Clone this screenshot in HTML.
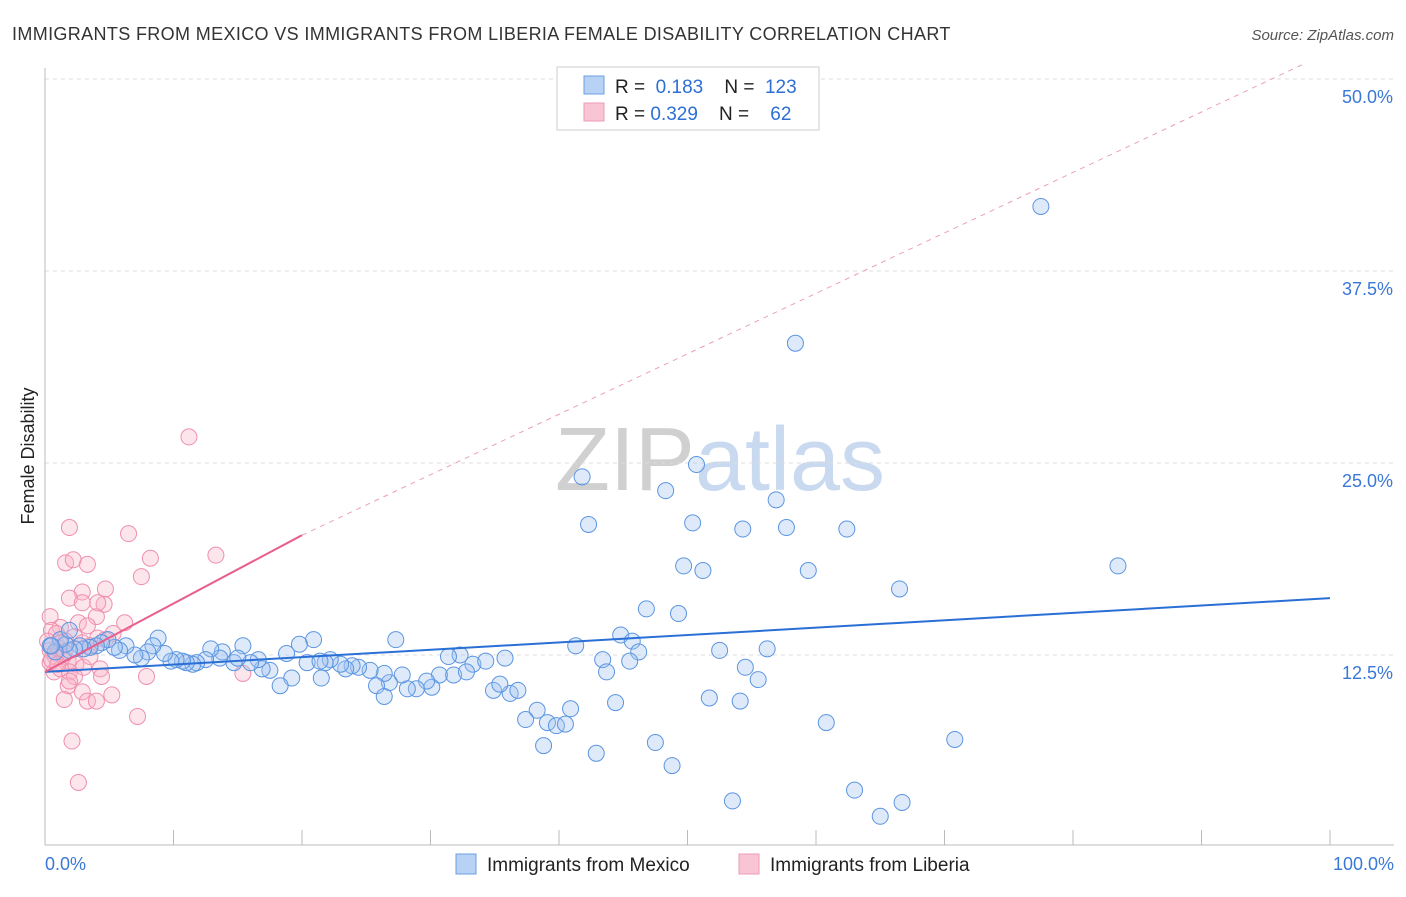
<!DOCTYPE html>
<html><head><meta charset="utf-8"><style>
body{margin:0;background:#fff;font-family:"Liberation Sans",sans-serif;}
svg text{font-family:"Liberation Sans",sans-serif;}
</style></head><body>
<svg id="c" width="1406" height="892">
<text x="12" y="40" font-size="18" fill="#333" letter-spacing="0.36">IMMIGRANTS FROM MEXICO VS IMMIGRANTS FROM LIBERIA FEMALE DISABILITY CORRELATION CHART</text>
<text x="1394" y="40" font-size="15" fill="#555" text-anchor="end" font-style="italic">Source: ZipAtlas.com</text>
<text x="34" y="456" font-size="18" fill="#222" text-anchor="middle" transform="rotate(-90 34 456)">Female Disability</text>
<text x="720" y="490" font-size="90" fill="#ccd6e4" text-anchor="middle" font-family="Liberation Serif"><tspan fill="#d0d0d0">ZIP</tspan><tspan fill="#c9daf0" font-family="Liberation Sans">atlas</tspan></text>
<g id="grid"></g><g id="pts"></g><g id="lines"></g>
<g>
<rect x="557" y="67" width="262" height="63" fill="#fff" stroke="#ccc"/>
<rect x="584" y="76" width="20" height="18" fill="#b8d2f5" stroke="#6a9fe0"/>
<rect x="584" y="103" width="20" height="18" fill="#f9c5d4" stroke="#ee9ab4"/>
<text x="615" y="93" font-size="19" fill="#222">R = <tspan fill="#2d6fd4">&#160;0.183</tspan>&#160;&#160;&#160; N = <tspan fill="#2d6fd4">&#160;123</tspan></text>
<text x="615" y="120" font-size="19" fill="#222">R = <tspan fill="#2d6fd4">0.329</tspan>&#160;&#160;&#160; N = <tspan fill="#2d6fd4">&#160;&#160;&#160;62</tspan></text>
</g>
<g>
<rect x="456" y="854" width="20" height="20" fill="#b8d2f5" stroke="#6a9fe0"/>
<text x="487" y="871" font-size="19" fill="#222">Immigrants from Mexico</text>
<rect x="739" y="854" width="20" height="20" fill="#f9c5d4" stroke="#ee9ab4"/>
<text x="770" y="871" font-size="19" fill="#222">Immigrants from Liberia</text>
</g>
</svg>
<script>
const yTicks=[12.5,25,37.5,50];
const yTickLabels=["12.5%","25.0%","37.5%","50.0%"];
const xTickLabels=["0.0%","100.0%"];
const mexX=[77.5,58.4,50.7,41.8,48.3,56.9,42.3,50.4,54.3,57.7,62.4,49.7,51.2,59.4,83.5,66.5,46.8,49.3,44.8,45.7,41.3,46.2,52.5,56.2,43.4,45.5,54.5,43.7,55.5,51.7,54.1,44.4,60.8,70.8,38.8,42.9,47.5,48.8,53.5,63.0,65.0,66.7,40.9,38.3,37.4,39.1,39.8,40.5,34.9,36.2,36.8,35.4,33.3,34.3,35.8,32.3,31.4,30.7,31.8,32.8,30.1,29.7,28.9,28.2,27.8,26.8,26.4,25.8,26.4,25.3,24.4,23.9,23.4,23.0,22.2,21.8,21.5,20.9,20.4,19.8,19.2,18.8,18.3,17.5,16.9,16.6,16.0,15.4,14.7,13.8,13.6,12.9,12.5,11.8,11.5,11.0,10.7,10.2,9.8,9.3,8.8,8.4,8.0,7.5,7.0,6.3,5.8,5.4,4.9,4.4,4.0,3.5,3.0,2.7,2.3,1.9,1.6,1.2,0.8,0.4,27.3,0.5,1.9,15.0,21.4];
const mexY=[41.7,32.8,24.9,24.1,23.2,22.6,21.0,21.1,20.7,20.8,20.7,18.3,18.0,18.0,18.3,16.8,15.5,15.2,13.8,13.4,13.1,12.7,12.8,12.9,12.2,12.1,11.7,11.4,10.9,9.7,9.5,9.4,8.1,7.0,6.6,6.1,6.8,5.3,3.0,3.7,2.0,2.9,9.0,8.9,8.3,8.1,7.9,8.0,10.2,10.0,10.2,10.6,11.9,12.1,12.3,12.5,12.4,11.2,11.2,11.4,10.4,10.8,10.3,10.3,11.2,10.7,11.3,10.5,9.8,11.5,11.7,11.8,11.6,11.9,12.2,12.0,11.0,13.5,12.0,13.2,11.0,12.6,10.5,11.5,11.6,12.2,12.0,13.1,12.0,12.7,12.3,12.9,12.2,12.0,11.9,12.0,12.1,12.2,12.1,12.6,13.6,13.1,12.7,12.3,12.5,13.1,12.8,13.0,13.5,13.3,13.1,13.0,12.9,13.1,12.9,12.8,13.2,13.5,12.7,13.1,13.5,13.1,14.1,12.3,12.1,12.2];
const libX=[11.2,1.9,6.5,13.3,8.2,1.6,2.2,3.3,7.5,4.7,2.9,1.9,2.9,4.6,0.4,4.0,6.2,2.6,3.3,1.2,0.5,5.3,0.9,2.3,4.1,1.6,2.9,3.5,1.0,0.4,0.8,1.4,1.8,0.4,2.4,3.0,4.3,0.7,1.2,1.9,2.3,4.4,7.9,15.4,1.8,2.9,5.2,1.5,3.3,4.0,7.2,2.1,2.6,4.1,1.2,0.2,0.5,3.5,4.7,1.5,1.0,1.9];
const libY=[26.7,20.8,20.4,19.0,18.8,18.5,18.7,18.4,17.6,16.8,16.6,16.2,15.9,15.8,15.0,15.0,14.6,14.6,14.4,14.3,14.1,13.9,13.9,13.7,13.6,13.4,13.3,13.1,13.0,12.8,12.4,12.4,12.1,12.0,11.9,11.7,11.6,11.4,11.6,11.4,11.1,11.1,11.1,11.3,10.5,10.1,9.9,9.6,9.5,9.5,8.5,6.9,4.2,15.9,13.3,13.4,12.2,12.4,13.5,12.7,11.9,10.8];
const mexTrend=[[0,11.4],[100,16.2]];
const libTrend=[[0,11.4],[20,20.3]];
const libDash=[[20,20.3],[98,51]];
const NS="http://www.w3.org/2000/svg";
const X0=45,X1=1330,Y0=847,PY=15.36;
const sx=v=>X0+(X1-X0)*v/100, sy=v=>Y0-PY*v;
function mk(t,a,p){const e=document.createElementNS(NS,t);for(const k in a)e.setAttribute(k,a[k]);p.appendChild(e);return e;}
const grid=document.getElementById('grid');
yTicks.forEach((t,i)=>{
 const l=mk('line',{x1:45,x2:1394,y1:sy(t),y2:sy(t),stroke:'#ddd','stroke-dasharray':'4,4'},grid);
 
 
 const tx=mk('text',{x:1393,y:sy(t)+24,'font-size':18,fill:'#3a78d8','text-anchor':'end'},grid);
 tx.textContent=yTickLabels[i];
 
 
});
mk('line',{x1:45,x2:45,y1:68,y2:845,stroke:'#bbb'},grid);
mk('line',{x1:45,x2:1394,y1:845,y2:845,stroke:'#bbb'},grid);
for(let i=0;i<=10;i++){mk('line',{x1:sx(i*10),x2:sx(i*10),y1:830,y2:845,stroke:'#bbb'},grid);}
[[0,'start',45],[100,'end',1394]].forEach((d,i)=>{
 const tx=mk('text',{x:d[2],y:870,'font-size':18,fill:'#3a78d8','text-anchor':d[1]},grid);
 tx.textContent=xTickLabels[i];
 
 
});
const pts=document.getElementById('pts');
libX.forEach((v,i)=>{
 const c=mk('circle',{cx:sx(v),cy:sy(libY[i]),r:8,fill:'rgba(248,180,200,0.35)',stroke:'#ee8fae','stroke-width':1},pts);
 
 
});
mexX.forEach((v,i)=>{
 const c=mk('circle',{cx:sx(v),cy:sy(mexY[i]),r:8,fill:'rgba(160,195,240,0.35)',stroke:'#5b95e0','stroke-width':1},pts);
 
 
});
const ln=document.getElementById('lines');
const a=mk('line',{x1:sx(mexTrend[0][0]),y1:sy(mexTrend[0][1]),x2:sx(mexTrend[1][0]),y2:sy(mexTrend[1][1]),stroke:'#2a6fd6','stroke-width':2},ln);


const b=mk('line',{x1:sx(libTrend[0][0]),y1:sy(libTrend[0][1]),x2:sx(libTrend[1][0]),y2:sy(libTrend[1][1]),stroke:'#e85f8c','stroke-width':2},ln);


const d=mk('line',{x1:sx(libDash[0][0]),y1:sy(libDash[0][1]),x2:sx(libDash[1][0]),y2:sy(libDash[1][1]),stroke:'#eaa0b8','stroke-width':1,'stroke-dasharray':'5,5'},ln);


</script>
</body></html>
